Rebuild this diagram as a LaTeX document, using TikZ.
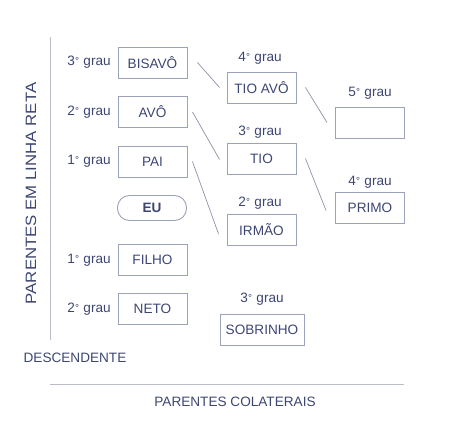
\documentclass[tikz,border=0pt]{standalone}
\usepackage{fontspec}
\setmainfont{Liberation Sans}
\newfontfamily\widesans{Liberation Sans}[FakeStretch=1.12]
\usetikzlibrary{positioning}

\definecolor{inkblue}{HTML}{3D4673}
\definecolor{boxline}{HTML}{9CA2BA}
\definecolor{linkgray}{HTML}{8C92A8}
\definecolor{axisgray}{HTML}{B9BDCA}

\newcommand{\grau}[1]{#1\kern0.2pt\raisebox{1.2pt}{\fontsize{10}{10}\selectfont °}\kern0.6pt\ grau}

\tikzset{
  grau box/.style={draw=boxline, line width=0.9pt, minimum width=69pt, minimum height=31pt, inner sep=2pt, text=inkblue},
  grau label/.style={text=inkblue, inner sep=1pt},
  link/.style={draw=linkgray, line width=0.7pt},
  axis/.style={draw=axisgray, line width=0.9pt}
}

\begin{document}
\begin{tikzpicture}[x=1pt, y=-1pt, font=\fontsize{13.6}{15}\selectfont]
            \useasboundingbox (0,0) rectangle (454,438);
            
            \coordinate (v1) at (50, 37);
            \coordinate (v2) at (50, 340);
            \coordinate (h1) at (50, 384);
            \coordinate (h2) at (404, 384);
            
            \draw[axis] (v1) -- (v2);
            \draw[axis] (h1) -- (h2);
            
            \node[grau box] (bisavo) at (152.5, 62.5) {BISAVÔ};
            \node[grau box] (avo) at (152.5, 112) {AVÔ};
            \node[grau box] (pai) at (152.5, 161.5) {PAI};
            \node[grau box, rounded corners=12pt, minimum height=25pt, font=\fontsize{13.6}{15}\selectfont\bfseries] (eu) at (152, 208) {EU};
            \node[grau box] (filho) at (152.5, 260) {FILHO};
            \node[grau box] (neto) at (152.5, 309) {NETO};
            
            \node[grau label] at (89, 62) {\grau{3}};
            \node[grau label] at (89, 112) {\grau{2}};
            \node[grau label] at (89, 161) {\grau{1}};
            \node[grau label] at (89, 260) {\grau{1}};
            \node[grau label] at (89, 309) {\grau{2}};
            
            \node[grau box] (tioavo) at (261.5, 87.5) {TIO AVÔ};
            \node[grau box] (tio) at (261.5, 158.5) {TIO};
            \node[grau box] (irmao) at (261.5, 230) {IRMÃO};
            \node[grau box, minimum width=84pt] (sobrinho) at (262, 329.5) {SOBRINHO};
            \node[grau box] (quinto) at (370, 122.5) {};
            \node[grau box] (primo) at (370, 207.5) {PRIMO};
            
            \node[grau label] at (260, 58) {\grau{4}};
            \node[grau label] at (260, 132) {\grau{3}};
            \node[grau label] at (260, 203) {\grau{2}};
            \node[grau label] at (262, 299) {\grau{3}};
            \node[grau label] at (370, 93) {\grau{5}};
            \node[grau label] at (370, 182) {\grau{4}};
            
            \draw[link] ([xshift=10pt]bisavo.east) -- ([xshift=-7pt]tioavo.west);
            \draw[link] ([xshift=5pt]avo.east) -- ([xshift=-7pt, yshift=-1pt]tio.west);
            \draw[link] ([xshift=5pt]pai.east) -- ([xshift=-8pt, yshift=-4pt]irmao.west);
            \draw[link] ([xshift=9pt]tioavo.east) -- ([xshift=-8pt]quinto.west);
            \draw[link] ([xshift=9pt]tio.east) -- ([xshift=-9pt, yshift=-3pt]primo.west);
            
            \node[grau label, rotate=90, font=\widesans\fontsize{15}{17}\selectfont] (linhareta) at (31, 193.5) {PARENTES EM LINHA RETA};
            \node[grau label] (descendente) at (75, 358) {DESCENDENTE};
            \node[grau label] (colaterais) at (235, 402) {PARENTES COLATERAIS};
            
            \end{tikzpicture}
\end{document}
